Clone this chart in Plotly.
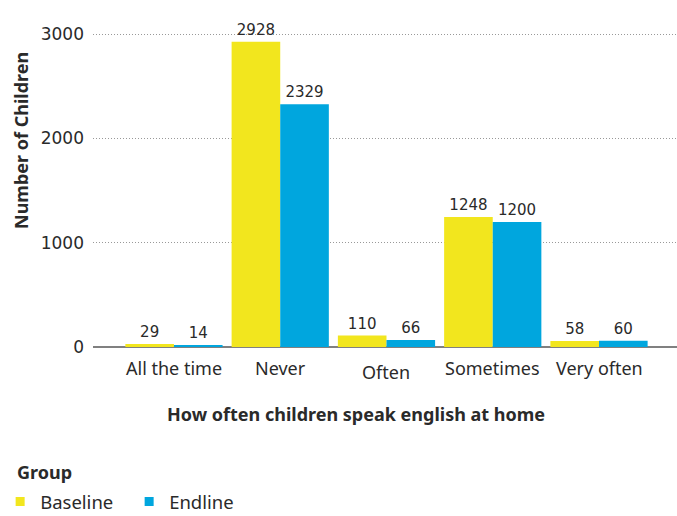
import plotly.graph_objects as go

categories = ["All the time", "Never", "Often", "Sometimes", "Very often"]
baseline = [29, 2928, 110, 1248, 58]
endline = [14, 2329, 66, 1200, 60]
groups = ["Baseline", "Endline"]

YELLOW = "#F2E61E"
BLUE = "#00A6DE"
WORD_FONT = "Noto Sans"
NUM_FONT = "DejaVu Sans"
TEXT = "#2a2a2a"

fig = go.Figure()
for name, vals, col in [(groups[0], baseline, YELLOW), (groups[1], endline, BLUE)]:
    fig.add_trace(go.Bar(
        name=name, x=categories, y=vals, marker=dict(color=col, line=dict(width=0)),
        text=[str(v) for v in vals], textposition="outside",
        textfont=dict(family=NUM_FONT, size=15, color=TEXT),
        cliponaxis=False, showlegend=False,
    ))
    # small square legend key
    fig.add_trace(go.Scatter(
        name=name, x=[None], y=[None], mode="markers",
        marker=dict(symbol="square", size=9, color=col), showlegend=True,
    ))

# category labels along the baseline ("Often" sits a little lower)
label_shift = {"Often": -25}
cat_annotations = [
    dict(text=c, x=c, xref="x", y=0, yref="y", yanchor="middle", xanchor="center",
         yshift=label_shift.get(c, -21), showarrow=False,
         font=dict(family=WORD_FONT, size=18, color=TEXT))
    for c in categories
]

fig.update_layout(
    width=677, height=516,
    margin=dict(l=93, r=0, t=20, b=169, autoexpand=False),
    paper_bgcolor="white", plot_bgcolor="white",
    barmode="group", bargap=0.085, bargroupgap=0,
    font=dict(family=WORD_FONT, color=TEXT),
    xaxis=dict(
        range=[-0.762, 4.734], showgrid=False, ticks="",
        showticklabels=False, showline=False,
    ),
    yaxis=dict(
        range=[0, 3137], tickvals=[0, 1000, 2000, 3000],
        showgrid=True, gridcolor="#999999", griddash="1px,2px", gridwidth=1,
        zeroline=True, zerolinecolor="#808080", zerolinewidth=2,
        tickfont=dict(family=NUM_FONT, size=17, color=TEXT),
        ticks="", ticklabelstandoff=8,
    ),
    legend=dict(
        orientation="h", x=-0.159, xanchor="left", y=(347 - 502) / 327, yanchor="middle",
        font=dict(family=WORD_FONT, size=18.5, color=TEXT),
        entrywidth=84,
    ),
    annotations=cat_annotations + [
        dict(text="<b>Number of Children</b>", xref="paper", yref="paper",
             x=(21 - 93) / 584, y=(347 - 141) / 327, xanchor="center", yanchor="middle",
             textangle=-90, showarrow=False,
             font=dict(family=WORD_FONT, size=18, color=TEXT)),
        dict(text="<b>How often children speak english at home</b>", xref="paper", yref="paper",
             x=(356 - 93) / 584, y=(347 - 414) / 327, xanchor="center", yanchor="middle",
             showarrow=False, font=dict(family=WORD_FONT, size=18, color=TEXT)),
        dict(text="<b>Group</b>", xref="paper", yref="paper",
             x=(15 - 93) / 584, y=(347 - 472) / 327, xanchor="left", yanchor="middle",
             showarrow=False, font=dict(family=WORD_FONT, size=18, color=TEXT)),
    ],
)

fig.write_html("out.html")
